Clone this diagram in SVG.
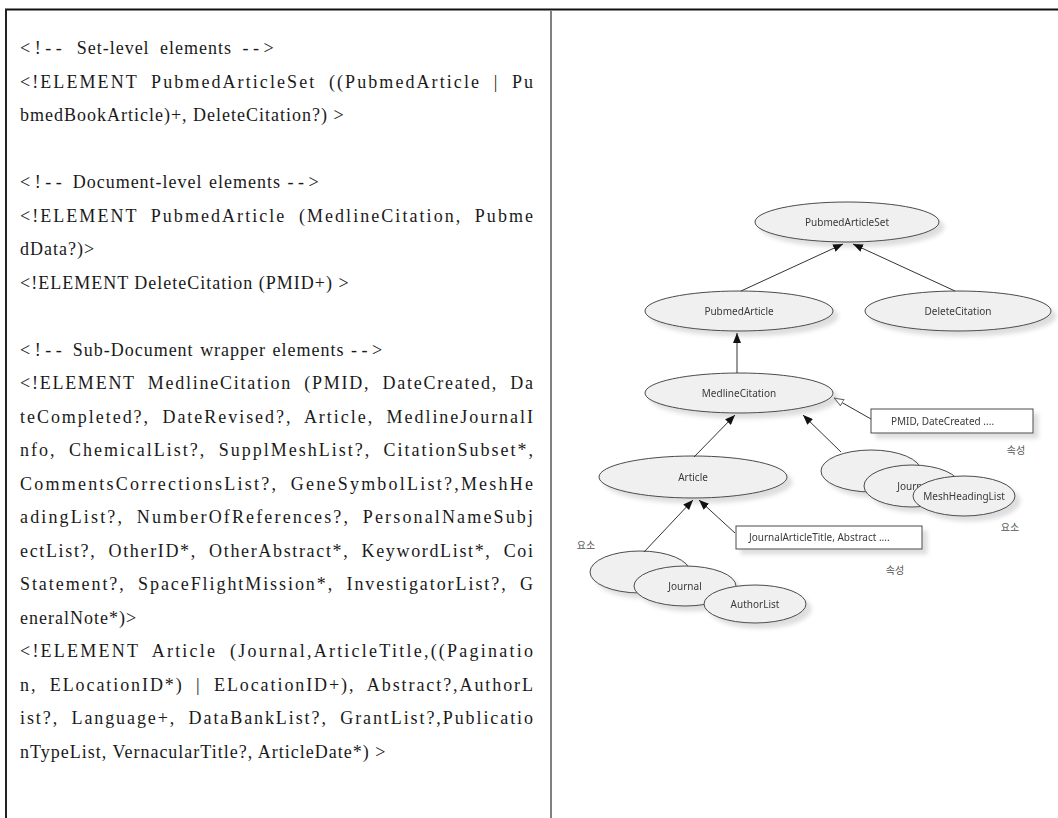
<svg xmlns="http://www.w3.org/2000/svg" width="1058" height="818" viewBox="0 0 1058 818">
<style>
.t{font-family:"Liberation Serif","Times New Roman",serif;font-size:18px;fill:#1a1a1a;letter-spacing:1px}
.j{word-spacing:6px}
.d{letter-spacing:4.5px}
.cm{word-spacing:1px}
.n ellipse{fill:#f0f0f0;stroke:#4a4a4a;stroke-width:1}
.n rect{fill:#ffffff;stroke:#4a4a4a;stroke-width:1}
.lb{font-family:"Noto Sans","Open Sans",sans-serif;font-size:10px;fill:#3a3a3a}
.ko{font-family:"Noto Sans CJK KR",sans-serif;font-size:10px;fill:#555}
.c line{stroke:#333;stroke-width:1}
</style>
<defs>
<filter id="sh" x="-20%" y="-30%" width="150%" height="180%">
<feDropShadow dx="5" dy="5" stdDeviation="2" flood-color="#000" flood-opacity="0.13"/>
</filter>
<marker id="ah" viewBox="0 0 10 8" refX="10" refY="4" markerWidth="10" markerHeight="8" markerUnits="userSpaceOnUse" orient="auto">
<path d="M0,0 L10,4 L0,8 z" fill="#111"/>
</marker>
<marker id="ao" viewBox="0 0 10 8" refX="10" refY="4" markerWidth="10" markerHeight="8" markerUnits="userSpaceOnUse" orient="auto">
<path d="M0.5,0.5 L9.5,4 L0.5,7.5 z" fill="#fff" stroke="#666" stroke-width="1"/>
</marker>
</defs>
<rect width="1058" height="818" fill="#fff"/>
<g id="frame">
<line x1="5" y1="9.5" x2="1058" y2="9.5" stroke="#111" stroke-width="2"/>
<line x1="6" y1="9" x2="6" y2="818" stroke="#222" stroke-width="2"/>
<line x1="551" y1="10" x2="551" y2="818" stroke="#808080" stroke-width="2"/>
</g>
<g id="dtd-text">
<text class="t" x="20" y="54" style="word-spacing:5px"><tspan class="d">&lt;!--</tspan>  Set-level elements <tspan class="d">--&gt;</tspan></text>
<text class="t j" x="20" y="87.5" textLength="514" lengthAdjust="spacing">&lt;!ELEMENT PubmedArticleSet ((PubmedArticle | Pu</text>
<text class="t" x="20" y="121">bmedBookArticle)+, DeleteCitation?) &gt;</text>
<text class="t cm" x="20" y="188"><tspan class="d">&lt;!--</tspan> Document-level elements <tspan class="d">--&gt;</tspan></text>
<text class="t j" x="20" y="221.5" textLength="514" lengthAdjust="spacing">&lt;!ELEMENT PubmedArticle (MedlineCitation, Pubme</text>
<text class="t" x="20" y="255">dData?)&gt;</text>
<text class="t" x="20" y="288.5">&lt;!ELEMENT DeleteCitation (PMID+) &gt;</text>
<text class="t cm" x="20" y="355.5"><tspan class="d">&lt;!--</tspan> Sub-Document wrapper elements <tspan class="d">--&gt;</tspan></text>
<text class="t j" x="20" y="389" textLength="514" lengthAdjust="spacing">&lt;!ELEMENT MedlineCitation (PMID, DateCreated, Da</text>
<text class="t j" x="20" y="422.5" textLength="514" lengthAdjust="spacing">teCompleted?, DateRevised?, Article, MedlineJournalI</text>
<text class="t j" x="20" y="456" textLength="514" lengthAdjust="spacing">nfo, ChemicalList?, SupplMeshList?, CitationSubset*,</text>
<text class="t j" x="20" y="489.5" textLength="514" lengthAdjust="spacing">CommentsCorrectionsList?, GeneSymbolList?,MeshHe</text>
<text class="t j" x="20" y="523" textLength="514" lengthAdjust="spacing">adingList?, NumberOfReferences?, PersonalNameSubj</text>
<text class="t j" x="20" y="556.5" textLength="514" lengthAdjust="spacing">ectList?, OtherID*, OtherAbstract*, KeywordList*, Coi</text>
<text class="t j" x="20" y="590" textLength="514" lengthAdjust="spacing">Statement?, SpaceFlightMission*, InvestigatorList?, G</text>
<text class="t" x="20" y="623.5">eneralNote*)&gt;</text>
<text class="t j" x="20" y="657" textLength="514" lengthAdjust="spacing">&lt;!ELEMENT Article (Journal,ArticleTitle,((Paginatio</text>
<text class="t j" x="20" y="690.5" textLength="514" lengthAdjust="spacing">n, ELocationID*) | ELocationID+), Abstract?,AuthorL</text>
<text class="t j" x="20" y="724" textLength="514" lengthAdjust="spacing">ist?, Language+, DataBankList?, GrantList?,Publicatio</text>
<text class="t" x="20" y="757.5">nTypeList, VernacularTitle?, ArticleDate*) &gt;</text>
</g>
<g id="n-set" class="n" filter="url(#sh)"><ellipse cx="847" cy="222" rx="92" ry="20"/><text class="lb" x="847" y="225.5" text-anchor="middle">PubmedArticleSet</text></g>
<g id="n-pubmedarticle" class="n" filter="url(#sh)"><ellipse cx="739" cy="311" rx="94" ry="20"/><text class="lb" x="739" y="314.5" text-anchor="middle">PubmedArticle</text></g>
<g id="n-delete" class="n" filter="url(#sh)"><ellipse cx="958" cy="311" rx="93" ry="20"/><text class="lb" x="958" y="314.5" text-anchor="middle">DeleteCitation</text></g>
<g id="n-medline" class="n" filter="url(#sh)"><ellipse cx="739" cy="393" rx="94" ry="20"/><text class="lb" x="739" y="396.5" text-anchor="middle">MedlineCitation</text></g>
<g id="n-article" class="n" filter="url(#sh)"><ellipse cx="693" cy="477" rx="94" ry="21"/><text class="lb" x="693" y="480.5" text-anchor="middle">Article</text></g>
<g id="n-attr1" class="n" filter="url(#sh)"><rect x="871" y="409" width="162" height="24"/><text class="lb" x="891" y="424.5">PMID, DateCreated ....</text></g>
<g id="n-mgroup" class="n" filter="url(#sh)">
<ellipse cx="871" cy="471" rx="50" ry="21"/>
<ellipse cx="912" cy="486" rx="48" ry="21"/><text class="lb" x="914" y="489.5" text-anchor="middle">Journal</text>
<ellipse cx="964" cy="496" rx="51" ry="20"/><text class="lb" x="964" y="499.5" text-anchor="middle">MeshHeadingList</text>
</g>
<g id="n-attr2" class="n" filter="url(#sh)"><rect x="736" y="526" width="186" height="23"/><text class="lb" x="749" y="541">JournalArticleTitle, Abstract ....</text></g>
<g id="n-agroup" class="n" filter="url(#sh)">
<ellipse cx="640" cy="572" rx="50" ry="21"/>
<ellipse cx="685" cy="586" rx="51" ry="20"/><text class="lb" x="685" y="589.5" text-anchor="middle">Journal</text>
<ellipse cx="755" cy="604" rx="51" ry="19"/><text class="lb" x="755" y="607.5" text-anchor="middle">AuthorList</text>
</g>
<g id="labels">
<text class="ko" x="1016" y="454" text-anchor="middle">속성</text>
<text class="ko" x="1010" y="531" text-anchor="middle">요소</text>
<text class="ko" x="895" y="574" text-anchor="middle">속성</text>
<text class="ko" x="586" y="549" text-anchor="middle">요소</text>
</g>
<g id="connectors" class="c">
<line x1="741" y1="291" x2="843" y2="244" marker-end="url(#ah)"/>
<line x1="955" y1="291" x2="853" y2="244" marker-end="url(#ah)"/>
<line x1="737" y1="373" x2="737" y2="333" marker-end="url(#ah)"/>
<line x1="694" y1="457" x2="735" y2="415" marker-end="url(#ah)"/>
<line x1="841" y1="452" x2="803" y2="415" marker-end="url(#ah)"/>
<line x1="871" y1="419" x2="834" y2="398" marker-end="url(#ao)"/>
<line x1="644" y1="552" x2="693" y2="500" marker-end="url(#ah)"/>
<line x1="735" y1="533" x2="699" y2="500" marker-end="url(#ah)"/>
</g>
</svg>
